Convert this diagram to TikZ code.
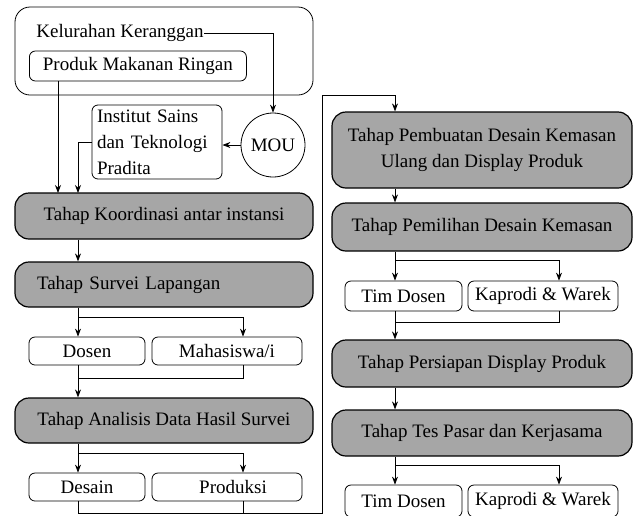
\documentclass[tikz,border=0pt]{standalone}
\usepackage{fontspec}
\setmainfont{Liberation Serif}
\usetikzlibrary{positioning, arrows.meta}

\begin{document}
\begin{tikzpicture}[->, >={Stealth[length=8pt, width=6pt]}, x=1pt, y=-1pt, line width=0.8pt, font=\fontsize{19}{26}\selectfont, tahap/.style={draw, fill=gray!70, line width=1.2pt, rounded corners=14pt, minimum width=298pt, minimum height=46pt}, pihak/.style={draw, rounded corners=6pt, minimum height=28pt, inner sep=0pt}]
    \useasboundingbox (0,0) rectangle (634,515);

    \node[draw, rounded corners=15pt, minimum width=298pt, minimum height=88pt] (desa) at (164,51) {};
    \node[anchor=west, inner sep=0pt] (kel) at (36,33) {Kelurahan Keranggan};
    \node[pihak, anchor=west, minimum width=217pt, minimum height=30pt, inner xsep=7pt] (produk) at (29,66) {Produk Makanan Ringan};
    \node[draw, rounded corners=6pt, align=left, text width=120pt, inner xsep=5pt, minimum height=74pt] (institut) at (157,142) {Institut Sains\\dan Teknologi\\Pradita};
    \node[draw, circle, minimum size=64pt, inner sep=0pt] (mou) at (273,145) {MOU};

    \node[tahap] (koor) at (164,216) {Tahap Koordinasi antar instansi};
    \node[tahap, align=left, text width=254pt, inner xsep=22pt, minimum height=45pt] (survei) at (164,284.5) {Tahap Survei Lapangan};
    \node[pihak, minimum width=116pt] (dosen) at (87,351) {Dosen};
    \node[pihak, minimum width=150pt] (mhs) at (227,351) {Mahasiswa/i};
    \node[tahap, minimum height=45pt] (analisis) at (164,420.5) {Tahap Analisis Data Hasil Survei};
    \node[pihak, minimum width=116pt] (desain) at (87,487) {Desain};
    \node[pihak, minimum width=150pt] (produksi) at (227,487) {\hspace{12pt}Produksi};

    \node[tahap, align=center, minimum width=300pt, minimum height=76pt] (pembuatan) at (482,150) {Tahap Pembuatan Desain Kemasan\\Ulang dan Display Produk};
    \node[tahap, minimum width=300pt, minimum height=48pt] (pemilihan) at (482,227) {Tahap Pemilihan Desain Kemasan};
    \node[pihak, minimum width=117pt, minimum height=30pt] (timA) at (403.5,296) {Tim Dosen};
    \node[pihak, minimum width=150pt, minimum height=30pt] (kapA) at (543,296) {Kaprodi \& Warek};
    \node[tahap, minimum width=300pt, minimum height=47pt] (persiapan) at (482,363.5) {Tahap Persiapan Display Produk};
    \node[tahap, minimum width=300pt] (tes) at (482,433) {Tahap Tes Pasar dan Kerjasama};
    \node[pihak, minimum width=117pt, minimum height=32pt] (timB) at (403.5,501) {Tim Dosen};
    \node[pihak, minimum width=150pt, minimum height=32pt] (kapB) at (543,501) {Kaprodi \& Warek};

    \coordinate (m1) at (58,193);
    \coordinate (m2) at (78,193);
    \draw (kel.east) -| (mou.north);
    \draw (mou.west) -- (mou.west -| institut.east);
    \draw (produk.south -| m1) -- (m1);
    \draw (institut.west) -| (m2);
    \draw (koor.south -| m2) -- (survei.north -| m2);

    \coordinate (s1) at (78,317);
    \coordinate (s2) at (243,317);
    \coordinate (s3) at (78,378);
    \coordinate (s4) at (243,378);
    \draw (survei.south -| s1) -- (dosen.north -| s1);
    \draw (s1) -- (s2) -- (mhs.north -| s2);
    \draw[-] (mhs.south -| s4) -- (s4) -- (s3);
    \draw (dosen.south -| s3) -- (analisis.north -| s3);

    \coordinate (a1) at (78,453);
    \coordinate (a2) at (243,453);
    \coordinate (a3) at (78,513);
    \coordinate (a4) at (243,513);
    \coordinate (r1) at (322,513);
    \coordinate (r2) at (322,95);
    \coordinate (r3) at (395,95);
    \draw (analisis.south -| a1) -- (desain.north -| a1);
    \draw (a1) -- (a2) -- (produksi.north -| a2);
    \draw[-] (produksi.south -| a4) -- (a4);
    \draw (desain.south -| a3) -- (a3) -- (r1) -- (r2) -- (r3) -- (pembuatan.north -| r3);

    \coordinate (p1) at (395,260);
    \coordinate (p2) at (559,260);
    \coordinate (p3) at (395,322);
    \coordinate (p4) at (559,322);
    \draw (pembuatan.south -| r3) -- (pemilihan.north -| r3);
    \draw (pemilihan.south -| p1) -- (timA.north -| p1);
    \draw (p1) -- (p2) -- (kapA.north -| p2);
    \draw[-] (kapA.south -| p4) -- (p4) -- (p3);
    \draw (timA.south -| p3) -- (persiapan.north -| p3);
    \draw (persiapan.south -| p3) -- (tes.north -| p3);

    \coordinate (t1) at (395,465);
    \coordinate (t2) at (559,465);
    \draw (tes.south -| t1) -- (timB.north -| t1);
    \draw (t1) -- (t2) -- (kapB.north -| t2);
\end{tikzpicture}
\end{document}
